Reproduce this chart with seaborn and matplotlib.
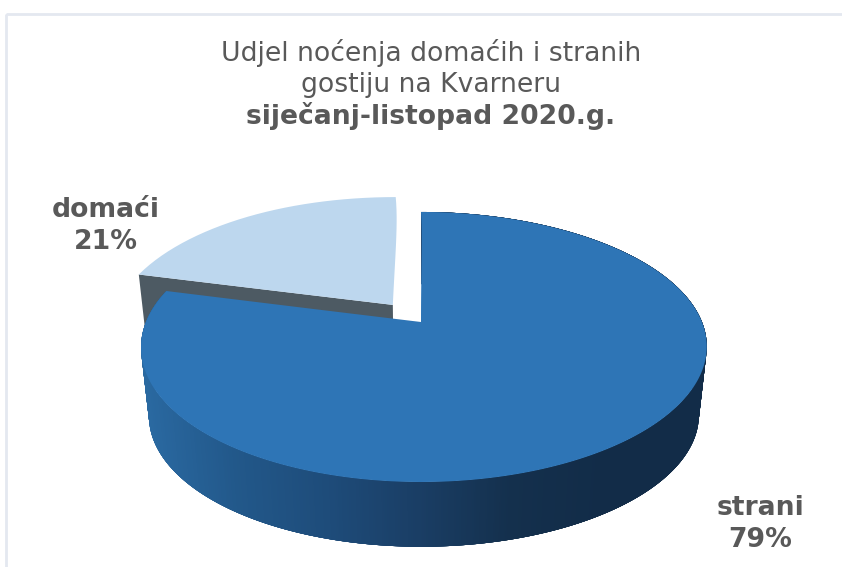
import numpy as np
import matplotlib
matplotlib.use("Agg")
import matplotlib.pyplot as plt
import seaborn as sns
from matplotlib.collections import PolyCollection
from matplotlib.colors import LinearSegmentedColormap
from matplotlib.path import Path
from matplotlib.patches import Rectangle
from matplotlib.transforms import Transform

# data
categories = ["strani", "domaći"]
shares = [79, 21]
explode = [0, 0.17]
slice_colors = ["#2e75b6", "#bdd7ee"]
title_lines = ["Udjel noćenja domaćih i stranih", "gostiju na Kvarneru"]
title_period = "siječanj-listopad 2020.g."

# pie geometry in picture pixels
APEX_X, APEX_Y = 421, 322
RX, RY, TILT = 278, 130.4, 0.185
RIM_SHIFT = 3
RIM_MID_X, RIM_MID_Y = 424, 347
DEPTH, SHRINK = 68.5, 0.972

TEXT_COLOR = "#595959"
WALL_COLOR = "#4d5a63"
wall_cmap = LinearSegmentedColormap.from_list(
    "wall", ["#2a69a1", "#22588a", "#1e4c7a", "#1a3e65", "#14304d", "#122c48", "#122c48"]
)


def project(xy):
    """Unit pie coordinates to tilted picture coordinates"""
    xy = np.asarray(xy, dtype=float)
    u, v = xy[..., 0], xy[..., 1]
    w = 1 + TILT * v
    shift = RIM_SHIFT * (u ** 2 + v ** 2) * (1 - v ** 2)
    return np.stack([APEX_X + RX * u / w + shift, APEX_Y - RY * v / w], axis=-1)


def drop(pts):
    """Move top points down to the bottom face of the pie"""
    pts = np.asarray(pts)
    x = RIM_MID_X + (pts[..., 0] - RIM_MID_X) * SHRINK
    y = RIM_MID_Y + (pts[..., 1] - RIM_MID_Y) * SHRINK + DEPTH
    return np.stack([x, y], axis=-1)


class TiltTransform(Transform):
    input_dims = 2
    output_dims = 2
    is_separable = False
    has_inverse = False

    def transform_non_affine(self, values):
        return project(values)

    def transform_path_non_affine(self, path):
        # flatten the arc first, a curve does not survive the tilt
        steps = np.linspace(0, 1, 16)
        pts = [seg(steps) for seg, code in path.iter_bezier()]
        return Path(project(np.vstack(pts)))


def rim(wedge, n=900):
    t = np.radians(np.linspace(wedge.theta1, wedge.theta2, n))
    cx, cy = wedge.center
    return np.column_stack([cx + wedge.r * np.cos(t), cy + wedge.r * np.sin(t)])


sns.set_theme(style="white")
plt.rcParams["font.family"] = ["DejaVu Sans"]

fig = plt.figure(figsize=(8.42, 5.67), dpi=100)
ax = fig.add_axes([0, 0, 1, 1])
wedges, _ = ax.pie(shares, explode=explode, colors=slice_colors, startangle=90,
                   counterclock=False)
ax.set_aspect("auto")
ax.set_xlim(0, 842)
ax.set_ylim(567, 0)

main, small = wedges
small.set_radius(1.03)
tilt = TiltTransform() + ax.transData
for wedge in wedges:
    wedge.set_transform(tilt)
    wedge.set_linewidth(0)

# cut face of the small slice, seen in the gap behind the big one
small_rim = project(rim(small))
small_apex = project(np.array(small.center))
edge = small_rim[np.argmin(small_rim[:, 0])]
face = np.array([small_apex, edge, drop(edge), drop(small_apex)])
ax.fill(face[:, 0], face[:, 1], color=WALL_COLOR, lw=0, zorder=1)
small.set_zorder(2)

# outer wall of the big slice, shaded left to right; the strips overlap so no seams show
top = project(rim(main))
bottom = drop(top)
lap = 6
quads = np.stack([top[:-lap], top[lap:], bottom[lap:], bottom[:-lap]], axis=1)
mid_x = quads[:, :, 0].mean(axis=1)
walls = PolyCollection(quads, array=mid_x, cmap=wall_cmap, linewidths=0, zorder=3)
walls.set_clim(148, 698)
ax.add_collection(walls)
main.set_zorder(4)

# chart frame
ax.add_patch(Rectangle((6, 14), 900, 700, fill=False, ec="#e4e8f0", lw=2, zorder=0))

for line, y in zip(title_lines, [53, 85]):
    ax.text(431, y, line, ha="center", va="center", fontsize=19.2, color=TEXT_COLOR)
ax.text(431, 116, title_period, ha="center", va="center", fontsize=19.2,
        fontweight="bold", color=TEXT_COLOR)

ax.text(760, 524, f"{categories[0]}\n{shares[0]}%", ha="center", va="center",
        fontsize=19.2, fontweight="bold", color=TEXT_COLOR, linespacing=1.32)
ax.text(106, 226, f"{categories[1]}\n{shares[1]}%", ha="center", va="center",
        fontsize=19.2, fontweight="bold", color=TEXT_COLOR, linespacing=1.32)

fig.savefig("out.png", dpi=100, facecolor="white")
plt.close(fig)
